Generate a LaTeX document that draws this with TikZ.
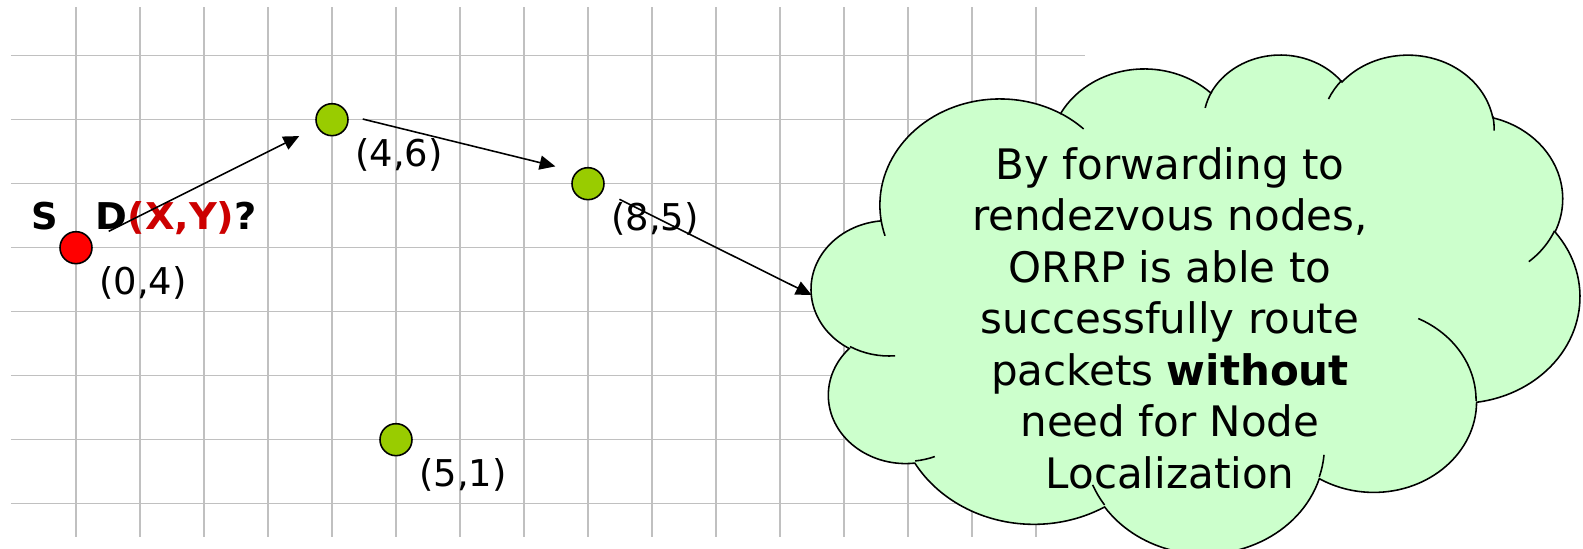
\documentclass[tikz,border=0pt]{standalone}
\usepackage{fontspec}
\setmainfont{DejaVu Sans}
\usetikzlibrary{arrows.meta,calc}
\definecolor{gridgray}{HTML}{C0C0C0}
\definecolor{nodegreen}{HTML}{99CC00}
\definecolor{nodered}{HTML}{FF0000}
\definecolor{xyred}{HTML}{CC0000}
\definecolor{cloudfill}{HTML}{CCFFCC}
\newcommand\cloudW{12.0}
\newcommand\cloudH{7.797}
\makeatletter
\newcommand\ooprep[5]{%
  \pgfmathsetmacro\oo@d{atan2((#2)/10000*sin(#4),(#3)/10000*cos(#4))-(#4)}%
  \pgfmathsetmacro\oo@d{-((#4)+\oo@d-360*round(\oo@d/360))}%
  \expandafter\global\expandafter\let\csname oos#1\endcsname\oo@d
  \pgfmathsetmacro\oo@d{atan2((#2)/10000*sin((#4)+(#5)),(#3)/10000*cos((#4)+(#5)))-((#4)+(#5))}%
  \pgfmathsetmacro\oo@d{-((#4)+(#5)+\oo@d-360*round(\oo@d/360))}%
  \expandafter\global\expandafter\let\csname ooe#1\endcsname\oo@d
  \pgfmathsetmacro\oo@d{(#2)/10000*\cloudW/4.32}%
  \expandafter\xdef\csname oox#1\endcsname{\oo@d cm}%
  \pgfmathsetmacro\oo@d{(#3)/10000*\cloudH/4.32}%
  \expandafter\xdef\csname ooy#1\endcsname{\oo@d cm}%
}
\makeatother
\newcommand\ooarc[1]{arc[x radius=\csname oox#1\endcsname, y radius=\csname ooy#1\endcsname, start angle=\csname oos#1\endcsname, end angle=\csname ooe#1\endcsname]}
\begin{document}
\begin{tikzpicture}[
  gridline/.style={draw=gridgray, line width=0.7pt},
  pt/.style={circle, draw=black, line width=0.7pt, minimum size=0.5cm, inner sep=0pt},
  lbl/.style={font=\fontsize{16.4}{20}\selectfont, anchor=base, inner sep=0pt},
  blbl/.style={font=\fontsize{16.4}{20}\selectfont\bfseries, anchor=base, inner sep=0pt},
  arr/.style={draw=black, line width=0.7pt, -{Triangle[length=7pt,width=6.3pt]}},
  cloudline/.style={draw=black, line width=0.7pt},
  cloudtxt/.style={font=\fontsize{18.67}{22.9}\selectfont, align=center, inner sep=0pt}
]
\useasboundingbox (-1.1875,-0.708) rectangle (23.547,7.870);
% grid
\foreach \i in {0,...,15} \draw[gridline] (\i,-0.52) -- (\i,7.756);
\foreach \j in {0,...,7} \draw[gridline] (-1.016,\j) -- (15.77,\j);
% points
\node[pt, fill=nodered] (n04) at (0,4) {};
\node[pt, fill=nodegreen] (n46) at (4,6) {};
\node[pt, fill=nodegreen] (n85) at (8,5) {};
\node[pt, fill=nodegreen] (n51) at (5,1) {};
% labels
\node[lbl] (l04) at ($(n04)+(1.045,-0.728)$) {(0,4)};
\node[lbl] (l46) at ($(n46)+(1.045,-0.728)$) {(4,6)};
\node[lbl] (l85) at ($(n85)+(1.045,-0.728)$) {(8,5)};
\node[lbl] (l51) at ($(n51)+(1.045,-0.728)$) {(5,1)};
\node[blbl] (s) at (-0.484,4.277) {S};
\node[blbl, anchor=base west] (d) at (0.30,4.277) {\addfontfeature{FakeStretch=1.04}D\textcolor{xyred}{(X,Y)}?};
% cloud geometry
\ooprep{A}{6753}{9190}{-190.4875}{123.7805}
\ooprep{B}{5333}{7267}{-144.1024}{89.9452}
\ooprep{C}{4365}{5945}{-145.8079}{99.7230}
\ooprep{D}{4857}{6595}{-130.9861}{117.2417}
\ooprep{E}{5333}{7273}{-78.7089}{109.0269}
\ooprep{F}{6775}{9220}{-46.2673}{130.2690}
\ooprep{G}{5785}{7867}{0.6250}{114.0333}
\ooprep{H}{6752}{9215}{22.4516}{115.1726}
\ooprep{I}{7720}{10543}{66.2426}{75.7110}
\ooprep{J}{4360}{5918}{-274.9421}{146.7356}
\ooprep{K}{4345}{5945}{-246.8285}{152.5189}
\ooprep{a}{4345}{5945}{86.7420}{26.4295}
\ooprep{b}{4360}{5918}{73.6105}{11.4475}
\ooprep{c}{6752}{9215}{137.6242}{14.0811}
\ooprep{d}{6752}{9215}{6.4533}{15.9984}
\ooprep{e}{5785}{7867}{-70.2924}{70.9174}
\ooprep{f}{5333}{7273}{30.3180}{27.7515}
\ooprep{g}{4857}{6595}{-13.7443}{14.8589}
\ooprep{h}{4857}{6595}{-149.1815}{18.1954}
\ooprep{i}{4365}{5945}{-163.4943}{17.6864}
\ooprep{j}{6753}{9190}{-66.7070}{12.3194}
\ooprep{k}{6753}{9190}{157.6544}{11.8582}
\begin{scope}[shift={(11.495,7.036)}, x=0.0277778cm, y=-0.018049cm]
\filldraw[cloudline, fill=cloudfill] (39.00,143.70) \ooarc{A} \ooarc{B} \ooarc{C} \ooarc{D} \ooarc{E} \ooarc{F} \ooarc{G} \ooarc{H} \ooarc{I} \ooarc{J} \ooarc{K} -- cycle;
\draw[cloudline] (46.93,261.77) \ooarc{a} (69.28,348.99) \ooarc{b} (164.78,390.90) \ooarc{c} (288.27,347.51) \ooarc{d} (341.29,229.54) \ooarc{e} (417.98,153.54) \ooarc{f} (383.24,54.26) \ooarc{g} (290.78,39.52) \ooarc{h} (221.41,47.20) \ooarc{i} (140.00,51.92) \ooarc{j} (41.27,157.89) \ooarc{k};
\end{scope}
\node[cloudtxt] (ctext) at (17.094,2.90) {By forwarding to\\rendezvous nodes,\\ORRP is able to\\successfully route\\packets \textbf{without}\\need for Node\\Localization};
% arrows
\coordinate (ctip) at (11.495,3.26);
\draw[arr, shorten <=0.31cm, shorten >=0.31cm] (n04) -- (n46);
\draw[arr] ($(n46)+(0.48,0.01)$) -- ($(n85)+(-0.51,0.27)$);
\draw[arr] ($(n85)+(0.49,-0.244)$) -- (ctip);
\end{tikzpicture}
\end{document}
